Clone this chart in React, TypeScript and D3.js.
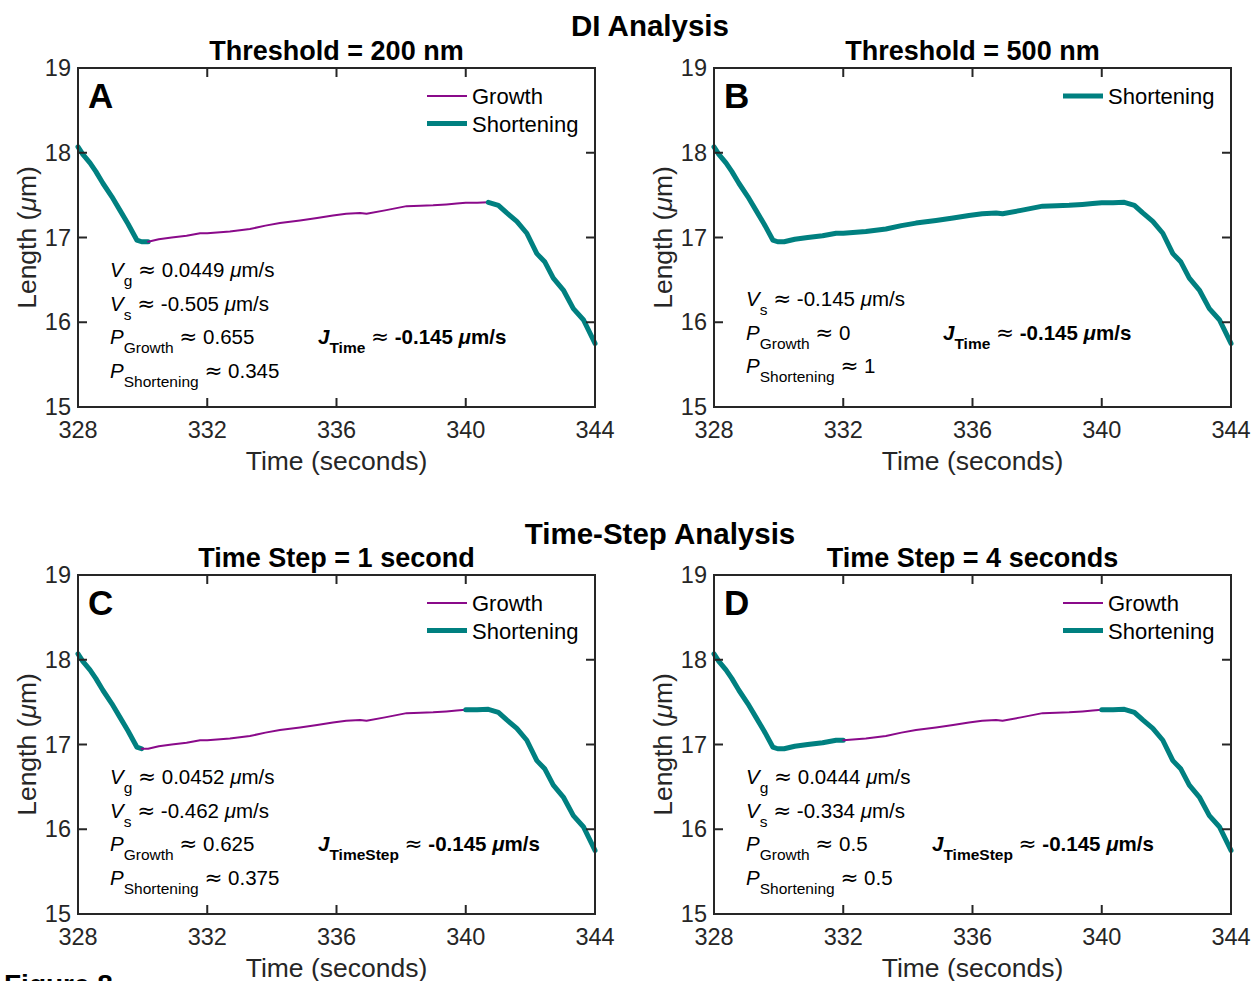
import React from "react";
import * as d3 from "d3";

// Shared length trace (time in seconds, length in µm)
const timeS = [
  328.0, 328.15, 328.37, 328.55, 328.77, 329.05, 329.3, 329.55, 329.82, 329.97,
  330.17, 330.5, 330.9, 331.36, 331.78, 332.0, 332.7, 333.32, 333.8, 334.25,
  334.87, 335.4, 335.89, 336.3, 336.73, 336.93, 337.5, 338.17, 338.6, 338.99,
  339.4, 339.72, 340.0, 340.35, 340.7, 341.01, 341.27, 341.58, 341.89, 342.2,
  342.45, 342.71, 343.02, 343.33, 343.64, 344.0,
];
const lengthUm = [
  18.07, 17.98, 17.88, 17.78, 17.64, 17.48, 17.32, 17.16, 16.97, 16.95,
  16.95, 16.98, 17.0, 17.02, 17.05, 17.05, 17.07, 17.1, 17.14, 17.17,
  17.2, 17.23, 17.26, 17.28, 17.29, 17.28, 17.32, 17.37, 17.375, 17.38,
  17.39, 17.4, 17.41, 17.41, 17.415, 17.38, 17.29, 17.19, 17.05, 16.81,
  16.71, 16.52, 16.38, 16.16, 16.03, 15.75,
];

const xTicks = [328, 332, 336, 340, 344];
const yTicks = [15, 16, 17, 18, 19];

// Segment classification per panel: [phase, start, end]
const segmentsA: [string, number, number][] = [
  ["Shortening", 328, 330.17],
  ["Growth", 330.17, 340.7],
  ["Shortening", 340.7, 344],
];
const segmentsB: [string, number, number][] = [["Shortening", 328, 344]];
const segmentsC: [string, number, number][] = [
  ["Shortening", 328, 329.97],
  ["Growth", 329.97, 340.0],
  ["Shortening", 340.0, 344],
];
const segmentsD: [string, number, number][] = [
  ["Shortening", 328, 332.0],
  ["Growth", 332.0, 340.0],
  ["Shortening", 340.0, 344],
];

const panelLetters = ["A", "B", "C", "D"];
const panelTitles = [
  "Threshold = 200 nm",
  "Threshold = 500 nm",
  "Time Step = 1 second",
  "Time Step = 4 seconds",
];
const groupTitles = ["DI Analysis", "Time-Step Analysis"];
const legendEntries = [
  ["Growth", "Shortening"],
  ["Shortening"],
  ["Growth", "Shortening"],
  ["Growth", "Shortening"],
];

type Run = { t: string; i?: boolean; b?: boolean; sub?: boolean; sym?: boolean };

const AP: Run = { t: "≈", sym: true };

const statsA: Run[][] = [
  [{ t: "V", i: true }, { t: "g", sub: true }, { t: " " }, AP, { t: " 0.0449 " }, { t: "μ", i: true }, { t: "m/s" }],
  [{ t: "V", i: true }, { t: "s", sub: true }, { t: " " }, AP, { t: " -0.505 " }, { t: "μ", i: true }, { t: "m/s" }],
  [{ t: "P", i: true }, { t: "Growth", sub: true }, { t: " " }, AP, { t: " 0.655" }],
  [{ t: "P", i: true }, { t: "Shortening", sub: true }, { t: " " }, AP, { t: " 0.345" }],
];
const statsB: Run[][] = [
  [{ t: "V", i: true }, { t: "s", sub: true }, { t: " " }, AP, { t: " -0.145 " }, { t: "μ", i: true }, { t: "m/s" }],
  [{ t: "P", i: true }, { t: "Growth", sub: true }, { t: " " }, AP, { t: " 0" }],
  [{ t: "P", i: true }, { t: "Shortening", sub: true }, { t: " " }, AP, { t: " 1" }],
];
const statsC: Run[][] = [
  [{ t: "V", i: true }, { t: "g", sub: true }, { t: " " }, AP, { t: " 0.0452 " }, { t: "μ", i: true }, { t: "m/s" }],
  [{ t: "V", i: true }, { t: "s", sub: true }, { t: " " }, AP, { t: " -0.462 " }, { t: "μ", i: true }, { t: "m/s" }],
  [{ t: "P", i: true }, { t: "Growth", sub: true }, { t: " " }, AP, { t: " 0.625" }],
  [{ t: "P", i: true }, { t: "Shortening", sub: true }, { t: " " }, AP, { t: " 0.375" }],
];
const statsD: Run[][] = [
  [{ t: "V", i: true }, { t: "g", sub: true }, { t: " " }, AP, { t: " 0.0444 " }, { t: "μ", i: true }, { t: "m/s" }],
  [{ t: "V", i: true }, { t: "s", sub: true }, { t: " " }, AP, { t: " -0.334 " }, { t: "μ", i: true }, { t: "m/s" }],
  [{ t: "P", i: true }, { t: "Growth", sub: true }, { t: " " }, AP, { t: " 0.5" }],
  [{ t: "P", i: true }, { t: "Shortening", sub: true }, { t: " " }, AP, { t: " 0.5" }],
];
const fluxLabels = ["Time", "Time", "TimeStep", "TimeStep"];
const fluxValue = " -0.145 ";

const FONT = "'Liberation Sans', Arial, Helvetica, sans-serif";
const SYMFONT = "'DejaVu Sans', sans-serif";
const TEXT = "#262626";
const PURPLE = "#8a0a8a";
const TEAL = "#008080";

const W = 517;
const H = 339;

const panels = [
  { left: 78, top: 68, segs: segmentsA, stats: statsA, statsY: 277, fluxX: 318, fluxLine: 2 },
  { left: 714, top: 68, segs: segmentsB, stats: statsB, statsY: 306, fluxX: 943, fluxLine: 1 },
  { left: 78, top: 575, segs: segmentsC, stats: statsC, statsY: 784, fluxX: 318, fluxLine: 2 },
  { left: 714, top: 575, segs: segmentsD, stats: statsD, statsY: 784, fluxX: 932, fluxLine: 2 },
];

function RichLine({ runs, x, y, size, subSize }: { runs: Run[]; x: number; y: number; size: number; subSize: number }) {
  let inSub = false;
  return (
    <text x={x} y={y} fontFamily={FONT} fontSize={size} fill="#000">
      {runs.map((r, k) => {
        let dy = 0;
        if (r.sub && !inSub) { dy = 9; inSub = true; }
        else if (!r.sub && inSub) { dy = -9; inSub = false; }
        return (
          <tspan
            key={k}
            dy={dy}
            fontStyle={r.i ? "italic" : "normal"}
            fontWeight={r.b ? "bold" : "normal"}
            fontSize={r.sub ? subSize : r.sym ? size * 1.05 : size}
            fontFamily={r.sym ? SYMFONT : FONT}
            style={{ whiteSpace: "pre" }}
          >
            {r.t}
          </tspan>
        );
      })}
    </text>
  );
}

function Panel({ idx }: { idx: number }) {
  const p = panels[idx];
  const x = d3.scaleLinear().domain([328, 344]).range([p.left, p.left + W]);
  const y = d3.scaleLinear().domain([15, 19]).range([p.top + H, p.top]);
  const pts = timeS.map((t, i) => [t, lengthUm[i]] as [number, number]);
  const line = d3
    .line<[number, number]>()
    .x((d) => x(d[0]))
    .y((d) => y(d[1]));
  const tickLen = 9;
  const bottom = p.top + H;
  const right = p.left + W;
  const legend = legendEntries[idx];
  const legX0 = p.left + W - 168;
  const fluxY = p.statsY + p.fluxLine * 33.5;
  return (
    <g>
      {p.segs.map(([phase, s, e], k) => {
        const seg = pts.filter((d) => d[0] >= s - 1e-9 && d[0] <= e + 1e-9);
        return (
          <path
            key={k}
            d={line(seg) || ""}
            fill="none"
            stroke={phase === "Growth" ? PURPLE : TEAL}
            strokeWidth={phase === "Growth" ? 2 : 5}
            strokeLinejoin="round"
            strokeLinecap="round"
          />
        );
      })}
      <rect x={p.left} y={p.top} width={W} height={H} fill="none" stroke={TEXT} strokeWidth={2} />
      {xTicks.map((t) => (
        <g key={"x" + t}>
          <line x1={x(t)} x2={x(t)} y1={bottom} y2={bottom - tickLen} stroke={TEXT} strokeWidth={2} />
          <line x1={x(t)} x2={x(t)} y1={p.top} y2={p.top + tickLen} stroke={TEXT} strokeWidth={2} />
          <text x={x(t)} y={bottom + 31} textAnchor="middle" fontFamily={FONT} fontSize={23.5} fill={TEXT}>
            {t}
          </text>
        </g>
      ))}
      {yTicks.map((t) => (
        <g key={"y" + t}>
          <line x1={p.left} x2={p.left + tickLen} y1={y(t)} y2={y(t)} stroke={TEXT} strokeWidth={2} />
          <line x1={right} x2={right - tickLen} y1={y(t)} y2={y(t)} stroke={TEXT} strokeWidth={2} />
          <text x={p.left - 7} y={y(t) + 8} textAnchor="end" fontFamily={FONT} fontSize={23.5} fill={TEXT}>
            {t}
          </text>
        </g>
      ))}
      <text x={p.left + W / 2} y={bottom + 63} textAnchor="middle" fontFamily={FONT} fontSize={26.5} fill={TEXT}>
        Time (seconds)
      </text>
      <text
        transform={`translate(${p.left - 42},${p.top + H / 2}) rotate(-90)`}
        textAnchor="middle"
        fontFamily={FONT}
        fontSize={26.5}
        fill={TEXT}
      >
        Length (<tspan fontStyle="italic">μ</tspan>m)
      </text>
      <text x={p.left + W / 2} y={p.top - 8} textAnchor="middle" fontFamily={FONT} fontSize={27} fontWeight="bold" fill="#000">
        {panelTitles[idx]}
      </text>
      <text x={p.left + 10} y={p.top + 40} fontFamily={FONT} fontSize={35} fontWeight="bold" fill="#000">
        {panelLetters[idx]}
      </text>
      {legend.map((name, k) => (
        <g key={name}>
          <line
            x1={legX0}
            x2={legX0 + 40}
            y1={p.top + 28 + k * 27.5}
            y2={p.top + 28 + k * 27.5}
            stroke={name === "Growth" ? PURPLE : TEAL}
            strokeWidth={name === "Growth" ? 2 : 5}
          />
          <text x={legX0 + 45} y={p.top + 36 + k * 27.5} fontFamily={FONT} fontSize={22} fill="#000">
            {name}
          </text>
        </g>
      ))}
      {p.stats.map((runs, k) => (
        <RichLine key={k} runs={runs} x={p.left + 32} y={p.statsY + k * 33.5} size={20.5} subSize={15.5} />
      ))}
      <RichLine
        runs={[
          { t: "J", b: true, i: true },
          { t: fluxLabels[idx], sub: true, b: true },
          { t: " " },
          AP,
          { t: fluxValue, b: true },
          { t: "μ", b: true, i: true },
          { t: "m/s", b: true },
        ]}
        x={p.fluxX}
        y={fluxY}
        size={20.5}
        subSize={15.5}
      />
    </g>
  );
}

export default function App() {
  return (
    <svg width={1253} height={981} style={{ display: "block", position: "absolute", left: 0, top: 0, background: "#fff" }}>
      <rect width={1253} height={981} fill="#fff" />
      <text x={650} y={36} textAnchor="middle" fontFamily={FONT} fontSize={29.5} fontWeight="bold" fill="#000">
        {groupTitles[0]}
      </text>
      <text x={660} y={544} textAnchor="middle" fontFamily={FONT} fontSize={29.5} fontWeight="bold" fill="#000">
        {groupTitles[1]}
      </text>
      {[0, 1, 2, 3].map((i) => (
        <Panel key={i} idx={i} />
      ))}
      <text x={4} y={994} fontFamily={FONT} fontSize={28} fontWeight="bold" fill="#000">
        Figure 8
      </text>
    </svg>
  );
}
